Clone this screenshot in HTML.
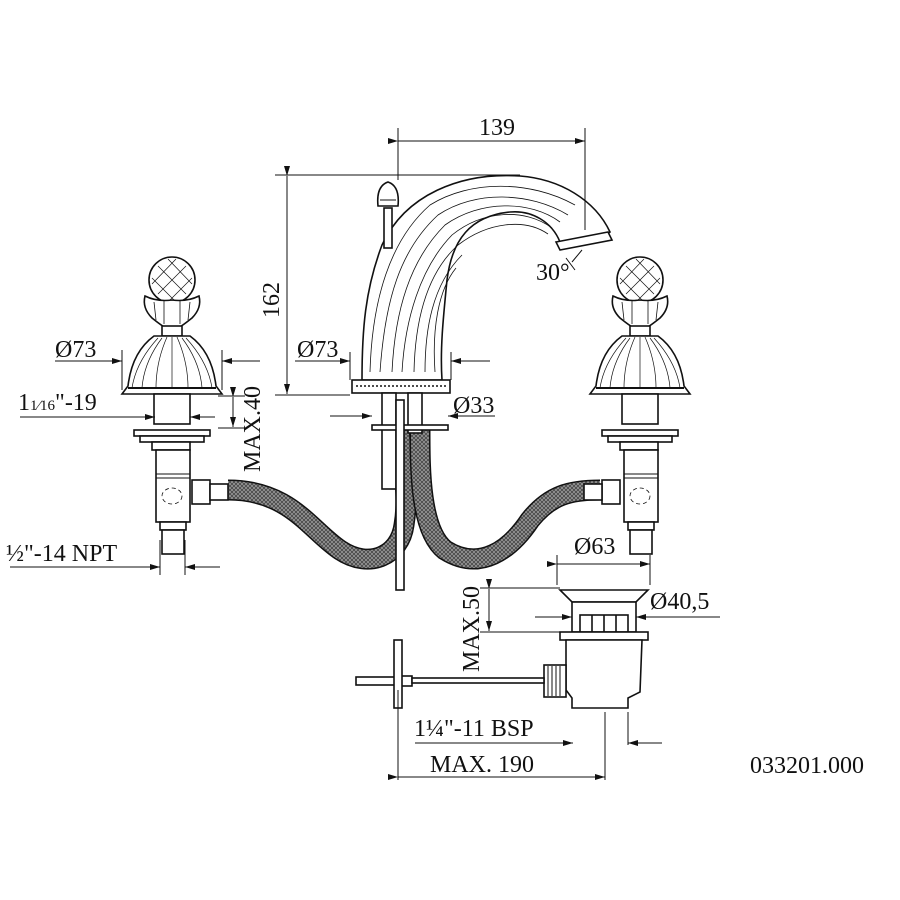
<!DOCTYPE html>
<html><head><meta charset="utf-8"><style>
html,body{margin:0;padding:0;background:#fff}
svg{display:block}
text{font-family:"Liberation Serif",serif;fill:#111}
</style></head><body>
<svg width="900" height="900" viewBox="0 0 900 900" xmlns="http://www.w3.org/2000/svg">
<defs>
<pattern id="h" width="4" height="4" patternUnits="userSpaceOnUse"><rect width="4" height="4" fill="#999"/><path d="M0 0L4 4M4 0L0 4" stroke="#444" stroke-width="0.8"/></pattern>
<marker id="a" markerWidth="10" markerHeight="6" refX="10" refY="3" orient="auto" markerUnits="userSpaceOnUse"><path d="M0 0L10 3L0 6z" fill="#111"/></marker>
<g id="valve" fill="#fff" stroke="#111" stroke-width="1.6">
  <circle cx="0" cy="-112" r="23"/>
  <path d="M-14-126L14-98M-20-114L4-90M-4-133L20-108M14-126L-14-98M20-114L-4-90M4-133L-20-108" stroke-width="0.7"/>
  <path d="M-27-96Q-30-84-20-74Q-10-66-6-64L6-64Q10-66 20-74Q30-84 27-96Q15-90 0-92Q-15-90-27-96z"/>
  <path d="M-18-90L-16-72M-8-92L-8-68M8-92L8-68M18-90L16-72" stroke-width="0.8"/>
  <rect x="-10" y="-66" width="20" height="10"/>
  <path d="M-18-56L18-56Q40-40 44-6L50 2L-50 2L-44-6Q-40-40-18-56z"/>
  <path d="M-10-54Q-28-30-30-4M0-55L0-4M10-54Q28-30 30-4M-5-55Q-16-30-16-4M5-55Q16-30 16-4M-14-54Q-36-30-40-4M14-54Q36-30 40-4" stroke-width="0.7"/>
  <path d="M-44-4L44-4" stroke-width="2"/>
  <rect x="-18" y="2" width="36" height="30"/>
  <rect x="-38" y="38" width="76" height="6"/>
  <rect x="-32" y="44" width="64" height="6"/>
  <rect x="-20" y="50" width="38" height="8"/>
  <rect x="-16" y="58" width="34" height="72"/>
  <path d="M-16 82L18 82M-16 86L18 86" stroke-width="1"/>
  <ellipse cx="0" cy="104" rx="10" ry="8" stroke-width="0.8" stroke-dasharray="4 3"/>
  <rect x="-12" y="130" width="26" height="8"/>
  <rect x="-10" y="138" width="22" height="24"/>
</g>
</defs>
<g stroke="#111" stroke-width="1" fill="none">
<path d="M228 490C290 490 310 530 340 550C370 570 400 555 404 525C410 490 400 460 400 430" stroke="#111" stroke-width="21"/>
<path d="M228 490C290 490 310 530 340 550C370 570 400 555 404 525C410 490 400 460 400 430" stroke="url(#h)" stroke-width="18"/>
<path d="M420 430C420 470 420 530 445 550C480 572 510 550 530 520C550 495 570 490 600 490" stroke="#111" stroke-width="21"/>
<path d="M420 430C420 470 420 530 445 550C480 572 510 550 530 520C550 495 570 490 600 490" stroke="url(#h)" stroke-width="18"/>
</g>
<use href="#valve" x="172" y="392"/>
<use href="#valve" x="640" y="392"/>
<g fill="#fff" stroke="#111" stroke-width="1.6">
<rect x="192" y="480" width="18" height="24"/><rect x="210" y="484" width="18" height="16"/>
<rect x="602" y="480" width="18" height="24"/><rect x="584" y="484" width="18" height="16"/>
<path d="M362 380C362 330 365 290 382 245C405 195 460 172 520 176C560 179 595 200 610 232L600 240L560 242C552 222 532 210 510 212C470 216 452 240 447 280C443 320 440 350 442 380z"/>
<path d="M370 372C372 300 390 240 430 205C470 180 530 180 575 205M380 372C385 300 400 250 438 215C475 190 530 192 568 215M392 372C395 310 410 260 445 225C480 200 530 200 560 222M402 372C405 320 420 268 452 235C483 210 525 208 552 228M414 372C415 325 425 275 458 245C488 222 525 218 548 234M425 372C425 330 432 285 462 255M435 372C432 330 438 290 456 268" fill="none" stroke-width="0.8"/>
<path d="M556 242L608 232L612 240L560 250z"/>
<rect x="352" y="380" width="98" height="13"/>
<path d="M356 386L446 386" stroke-dasharray="2 2"/>
<rect x="384" y="208" width="8" height="40"/>
<path d="M378 206Q376 186 388 182Q400 186 398 206z"/>
<path d="M380 200L396 200" stroke-width="1"/>
<rect x="382" y="393" width="14" height="96"/>
<rect x="408" y="393" width="14" height="40"/>
<rect x="372" y="425" width="76" height="5"/>
<rect x="396" y="400" width="8" height="190"/>
<path d="M560 590L648 590L636 602L572 602z"/>
<rect x="572" y="602" width="64" height="30"/>
<rect x="580" y="615" width="48" height="17"/>
<path d="M592 615L592 632M604 615L604 632M616 615L616 632"/>
<rect x="560" y="632" width="88" height="8"/>
<path d="M566 640L642 640L640 692L628 698L628 708L572 708L572 698L566 690z"/>
<rect x="544" y="665" width="22" height="32"/>
<path d="M548 666L548 696M552 666L552 696M556 666L556 696M560 666L560 696" stroke-width="1"/>
<rect x="356" y="677" width="42" height="8"/>
<rect x="398" y="676" width="14" height="10"/>
<rect x="412" y="678" width="132" height="5"/>
<rect x="394" y="640" width="8" height="68"/>
</g>
<g stroke="#111" stroke-width="1" fill="none">
<path d="M398 128L398 180M585 128L585 230"/>
<path d="M398 141L585 141" marker-start="url(#a)" marker-end="url(#a)"/>
<path d="M275 175L520 175M275 395L350 395"/>
<path d="M287 176L287 394" marker-start="url(#a)" marker-end="url(#a)"/>
<path d="M122 350L122 390M222 350L222 390"/>
<path d="M55 361L122 361" marker-end="url(#a)"/><path d="M260 361L222 361" marker-end="url(#a)"/>
<path d="M350 352L350 380M451 352L451 380"/>
<path d="M295 361L350 361" marker-end="url(#a)"/><path d="M490 361L451 361" marker-end="url(#a)"/>
<path d="M218 396L245 396M218 428L245 428"/>
<path d="M233 397L233 427" marker-start="url(#a)" marker-end="url(#a)"/>
<path d="M20 417L155 417" marker-end="url(#a)"/><path d="M215 417L190 417" marker-end="url(#a)"/>
<path d="M330 416L372 416" marker-end="url(#a)"/><path d="M495 416L448 416" marker-end="url(#a)"/>
<path d="M160 540L160 575M185 540L185 575"/>
<path d="M10 567L160 567" marker-end="url(#a)"/><path d="M220 567L185 567" marker-end="url(#a)"/>
<path d="M557 555L557 585M650 555L650 585"/>
<path d="M557 564L650 564" marker-start="url(#a)" marker-end="url(#a)"/>
<path d="M480 588L560 588M480 632L560 632"/>
<path d="M489 589L489 631" marker-start="url(#a)" marker-end="url(#a)"/>
<path d="M535 617L572 617" marker-end="url(#a)"/><path d="M720 617L636 617" marker-end="url(#a)"/>
<path d="M398 690L398 780M605 712L605 780M628 712L628 745"/>
<path d="M415 743L573 743" marker-end="url(#a)"/><path d="M662 743L628 743" marker-end="url(#a)"/>
<path d="M398 777L605 777" marker-start="url(#a)" marker-end="url(#a)"/>
<path d="M572 262L582 250M575 270L566 258"/>
</g>
<g font-size="24">
<text x="479" y="135">139</text>
<text x="279" y="318" transform="rotate(-90 279 318)">162</text>
<text x="55" y="357">Ø73</text>
<text x="297" y="357">Ø73</text>
<text x="260" y="472" transform="rotate(-90 260 472)">MAX.40</text>
<text x="18" y="410">1<tspan font-size="15">1⁄16</tspan>"-19</text>
<text x="453" y="413">Ø33</text>
<text x="536" y="280">30°</text>
<text x="6" y="561">½"-14 NPT</text>
<text x="574" y="554">Ø63</text>
<text x="650" y="609">Ø40,5</text>
<text x="479" y="672" transform="rotate(-90 479 672)">MAX.50</text>
<text x="414" y="736">1¼"-11 BSP</text>
<text x="430" y="772">MAX. 190</text>
<text x="750" y="773">033201.000</text>
</g>
</svg>
</body></html>
